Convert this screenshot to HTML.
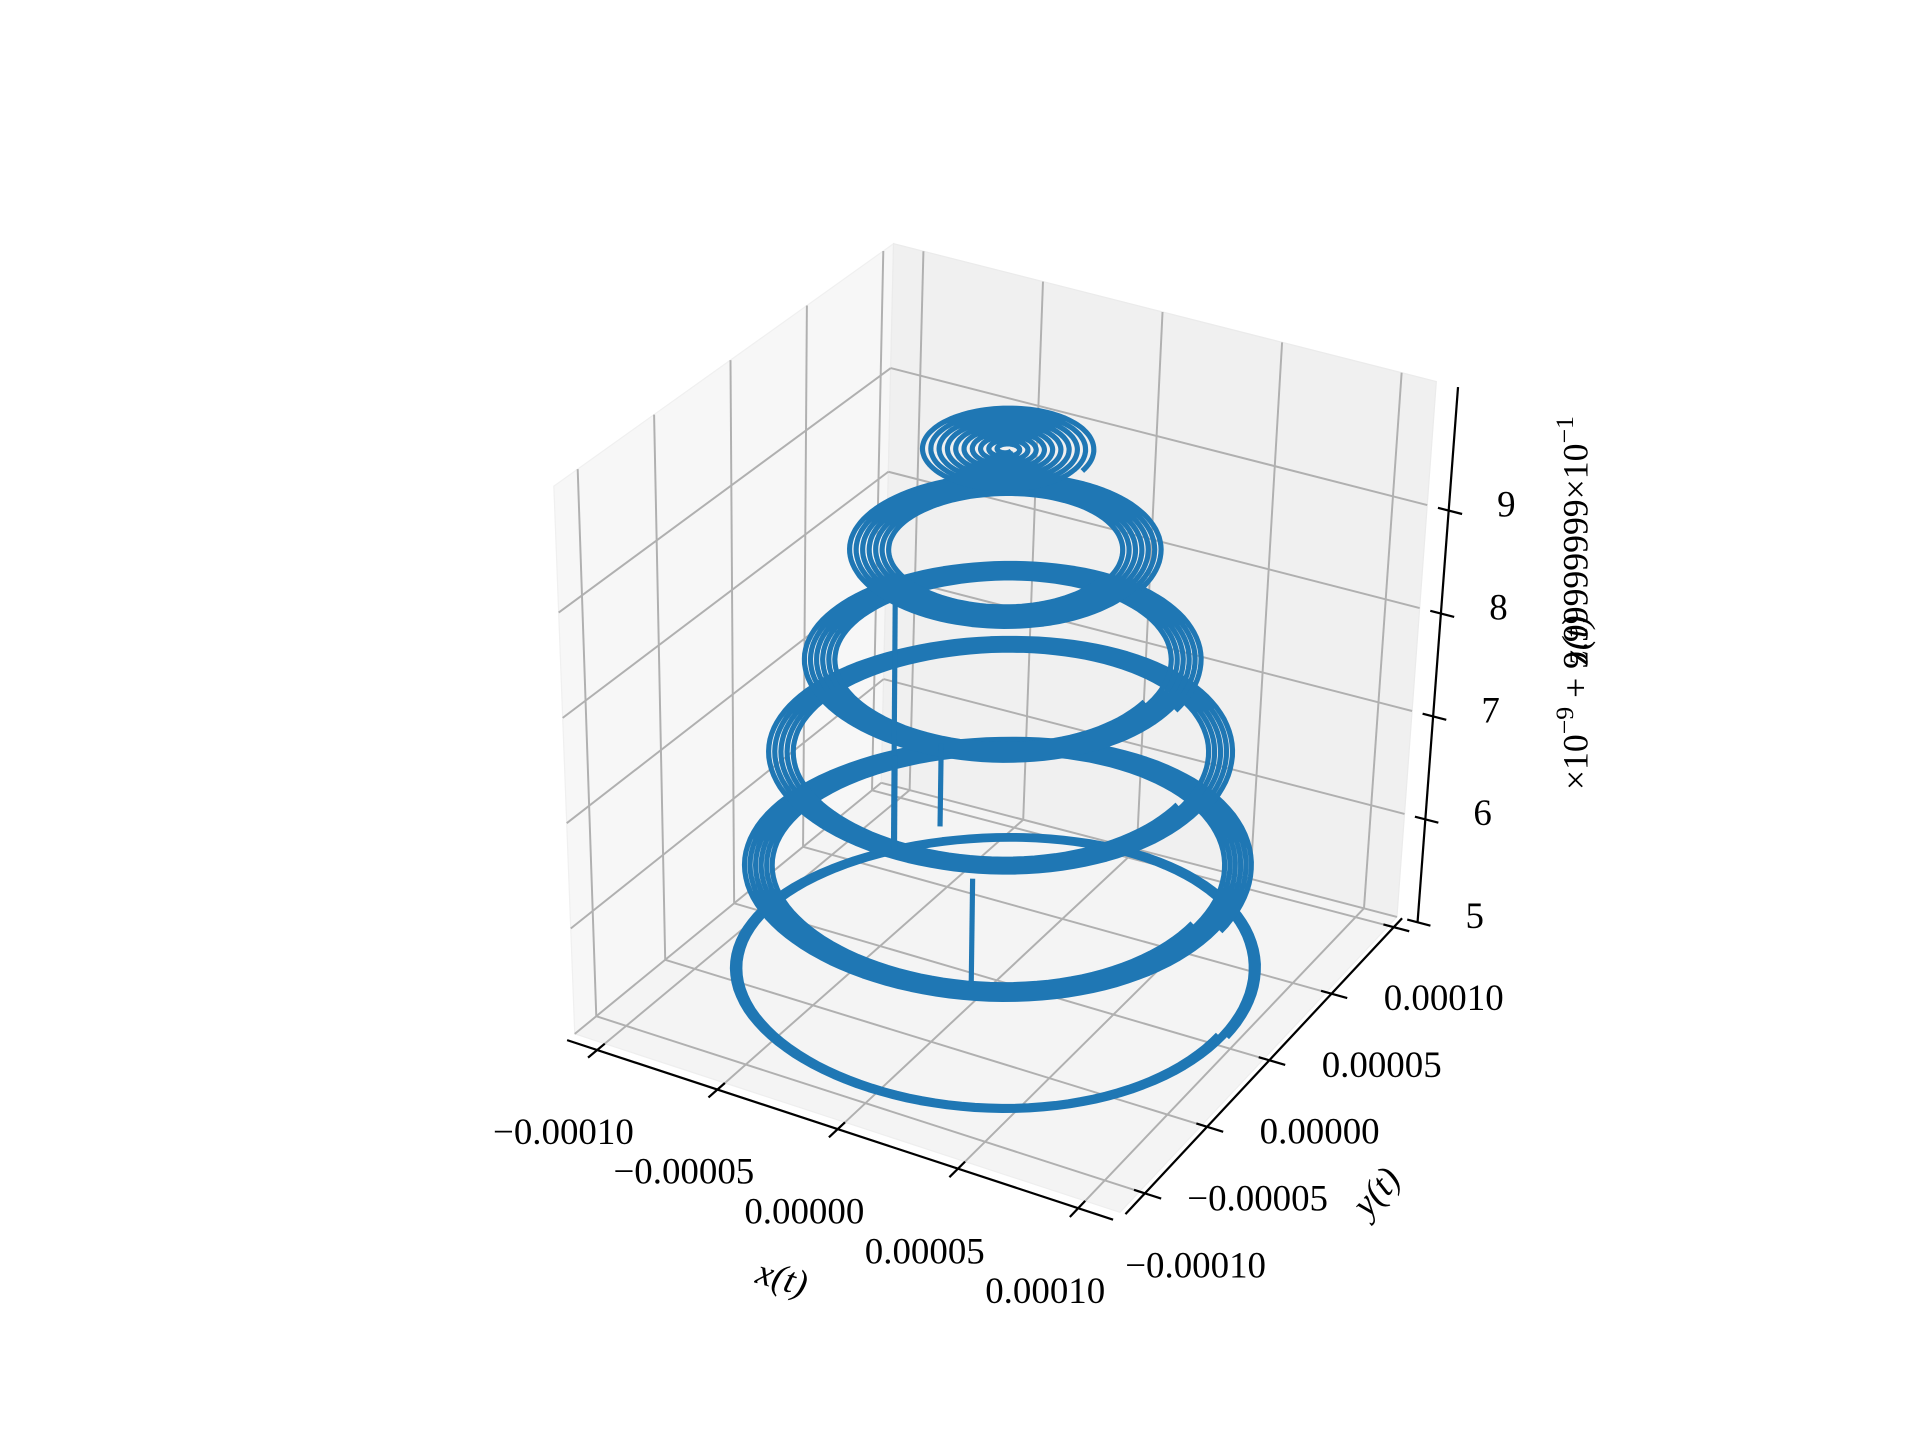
<!DOCTYPE html>
<html><head><meta charset="utf-8"><style>
html,body{margin:0;padding:0;background:#fff;}
svg{display:block;}
text{font-family:"Liberation Serif","DejaVu Serif",serif;fill:#000;}
</style></head><body>
<svg id="chart" width="1920" height="1440" viewBox="0 0 1560 1170" xmlns="http://www.w3.org/2000/svg">
<rect width="1560" height="1170" fill="#fff"/>
<g id="panes"></g>
<g id="grid"></g>
<g id="axes"></g>
<g id="series"></g>
<g id="labels"></g>
<text x="635" y="1048" font-size="30" font-style="italic" text-anchor="middle" transform="rotate(16 635 1040)">x(t)</text>
<text x="1118" y="978" font-size="30" font-style="italic" text-anchor="middle" transform="rotate(-48 1118 968)">y(t)</text>
<text x="1290" y="490" font-size="29" text-anchor="middle" transform="rotate(-90 1290 490)">×10<tspan dy="-12" font-size="21">−9</tspan><tspan dy="12"> + 9.99999999×10</tspan><tspan dy="-12" font-size="21">−1</tspan></text>
<text x="1290" y="520" font-size="30" font-style="italic" text-anchor="middle" transform="rotate(-90 1290 520)">z(t)</text>
</svg>
<script>
// axis limits and ticks
const xLim = [-1.125e-4, 1.145e-4];
const yLim = [-1.156e-4, 1.067e-4];
const zLim = [5, 10.2];
const xTicks = [-1e-4, -5e-5, 0, 5e-5, 1e-4];
const xTickLabels = ["−0.00010", "−0.00005", "0.00000", "0.00005", "0.00010"];
const yTicks = [-1e-4, -5e-5, 0, 5e-5, 1e-4];
const yTickLabels = ["−0.00010", "−0.00005", "0.00000", "0.00005", "0.00010"];
const zTicks = [5, 6, 7, 8, 9];
const zTickLabels = ["5", "6", "7", "8", "9"];
// spiral groups (radius in 1e-5 units)
const groupZ = [5.1, 6.09, 7.18, 8.07, 9.13, 10.1];
const groupROuter = [9.85, 9.4, 8.5, 7.2, 5.6, 3.1];
const groupRInner = [9.45, 8.2, 7.4, 5.9, 4.0, 0.2];
const groupTurns = [3, 6, 5, 6, 7, 10];
// vertical jumps: x, y (1e-5 units), z from, z to
const jumpX = [-0.2, -4.0, -3.9, -3.3];
const jumpY = [-1.6, -0.8, -0.9, 1.4];
const jumpZ1 = [5.1, 6.1, 6.1, 6.1];
const jumpZ2 = [6.15, 8.45, 7.0, 6.9];

const NS = "http://www.w3.org/2000/svg";
const F = {A:[467,840],B:[910,985],C:[1135,745],D:[716,636]};
const T = {A:[450,395],B:[915,543],C:[1167,310],D:[726,198]};
function bil(P,u,v){
  const a=(1-u)*(1-v),b=u*(1-v),c=u*v,d=(1-u)*v;
  return [P.A[0]*a+P.B[0]*b+P.C[0]*c+P.D[0]*d, P.A[1]*a+P.B[1]*b+P.C[1]*c+P.D[1]*d];
}
function proj(u,v,w){const p=bil(F,u,v),q=bil(T,u,v);return [p[0]+(q[0]-p[0])*w,p[1]+(q[1]-p[1])*w];}
const ux=x=>(x-xLim[0])/(xLim[1]-xLim[0]);
const vy=y=>(y-yLim[0])/(yLim[1]-yLim[0]);
const wz=z=>(z-zLim[0])/(zLim[1]-zLim[0]);
function P3(x,y,z){return proj(ux(x),vy(y),wz(z));}
function mk(tag,attrs,parent){const e=document.createElementNS(NS,tag);for(const k in attrs)e.setAttribute(k,attrs[k]);parent.appendChild(e);return e;}
function pts(a){return a.map(p=>p[0].toFixed(1)+","+p[1].toFixed(1)).join(" ");}

// panes
const panes=document.getElementById('panes');
let e;
e=mk('polygon',{points:pts([proj(0,0,0),proj(0,1,0),proj(0,1,1),proj(0,0,1)]),fill:'#f7f7f7',stroke:'#f0f0f0'},panes);

e=mk('polygon',{points:pts([proj(0,1,0),proj(1,1,0),proj(1,1,1),proj(0,1,1)]),fill:'#f0f0f0',stroke:'#ebebeb'},panes);

e=mk('polygon',{points:pts([proj(0,0,0),proj(1,0,0),proj(1,1,0),proj(0,1,0)]),fill:'#f4f4f4',stroke:'#eeeeee'},panes);


// grid
const grid=document.getElementById('grid');
const gs={stroke:'#b0b0b0','stroke-width':1.6,fill:'none'};
function gl(a,b,name){const l=mk('line',Object.assign({x1:a[0],y1:a[1],x2:b[0],y2:b[1]},gs),grid);}
xTicks.forEach(t=>{const u=ux(t);gl(proj(u,0,0),proj(u,1,0),'x-grid-floor');gl(proj(u,1,0),proj(u,1,1),'x-grid-back');});
yTicks.forEach(t=>{const v=vy(t);gl(proj(0,v,0),proj(1,v,0),'y-grid-floor');gl(proj(0,v,0),proj(0,v,1),'y-grid-left');});
zTicks.forEach(t=>{const w=wz(t);gl(proj(0,0,w),proj(0,1,w),'z-grid-left');gl(proj(0,1,w),proj(1,1,w),'z-grid-back');});

// axes
const axes=document.getElementById('axes');
const labels=document.getElementById('labels');
const as={stroke:'#000','stroke-width':1.8};
function al(a,b,name){const l=mk('line',Object.assign({x1:a[0],y1:a[1],x2:b[0],y2:b[1]},as),axes);}
al(proj(0,-0.025,0),proj(1,-0.025,0),'x-axis-line');
al(proj(1.01,0,0),proj(1.01,1,0),'y-axis-line');
al(proj(1.04,1,0),proj(1.04,1,1),'z-axis-line');
function lab(txt,x,y,name){const t=mk('text',{x:x,y:y,'font-size':30,'text-anchor':'middle'},labels);t.textContent=txt;}
xTicks.forEach((t,i)=>{const u=ux(t);al(proj(u,0.0,0),proj(u,-0.055,0),'x-tick');
  const p=proj(u,-0.055,0);lab(xTickLabels[i],p[0]-20,p[1]+70,'x-tick-label');});
yTicks.forEach((t,i)=>{const v=vy(t);al(proj(0.99,v,0),proj(1.04,v,0),'y-tick');
  const p=proj(1.04,v,0);lab(yTickLabels[i],p[0]+28,p[1]+64,'y-tick-label');});
zTicks.forEach((t,i)=>{const w=wz(t);al(proj(1.02,1,w),proj(1.065,1,w),'z-tick');
  const p=proj(1.065,1,w);lab(zTickLabels[i],p[0]+36,p[1]+2,'z-tick-label');});

// series
const series=document.getElementById('series');
const ss={stroke:'#1f77b4','stroke-width':4.2,fill:'none','stroke-linejoin':'round'};
groupZ.forEach((z,g)=>{
  const n=groupTurns[g]*120, a=[];
  for(let i=0;i<=n;i++){
    const f=i/n, th=f*groupTurns[g]*2*Math.PI;
    const r=(groupROuter[g]+(groupRInner[g]-groupROuter[g])*f)*1e-5;
    a.push(P3(r*Math.cos(th),r*Math.sin(th),z));
  }
  const pl=mk('polyline',Object.assign({points:pts(a)},ss),series);
  
  
});
jumpX.forEach((x,i)=>{
  const a=P3(x*1e-5,jumpY[i]*1e-5,jumpZ1[i]), b=P3(x*1e-5,jumpY[i]*1e-5,jumpZ2[i]);
  const l=mk('line',Object.assign({x1:a[0],y1:a[1],x2:b[0],y2:b[1]},ss),series);
  
  
});
</script>
</body></html>
